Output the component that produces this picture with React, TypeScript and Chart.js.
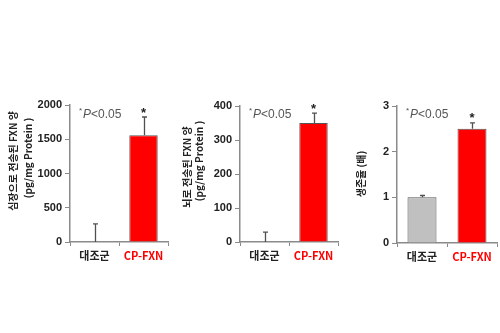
import React, { useEffect, useRef } from "react";
import { Chart, registerables } from "chart.js";
Chart.register(...registerables);

const categories = ["대조군", "CP-FXN"];
const heartValues = [0, 1560];
const heartUpper = [265, 1825];
const heartTicks = { max: 2000, step: 500 };
const heartTitle = ["심장으로 전송된 FXN 양", "(pg/mg Protein )"];

const brainValues = [0, 350];
const brainUpper = [29, 379];
const brainTicks = { max: 400, step: 100 };
const brainTitle = ["뇌로 전송된 FXN 양", "(pg/mg Protein )"];

const survivalValues = [1.0, 2.5];
const survivalUpper = [1.04, 2.63];
const survivalTicks = { max: 3, step: 1 };
const survivalTitle = ["생존율 (배)"];

const pLabel = "P<0.05";

const AXIS = "#8a8a8a";
const FONT_KR = "'Noto Sans CJK KR', Arial, sans-serif";
const FONT_NUM = "Arial, 'Liberation Sans', sans-serif";

type PanelProps = {
  x0: number;
  width: number;
  values: number[];
  upper: number[];
  colors: string[];
  borders: string[];
  ticks: { max: number; step: number };
  title: string[];
  titlePos: { x: number; y: number }[];
  padL: number;
  yW: number;
  padR: number;
  top: number;
  bottom: number;
};

const H = 333;

function Panel(p: PanelProps) {
  const ref = useRef<HTMLCanvasElement | null>(null);
  useEffect(() => {
    if (!ref.current) return;
    const xH = 30;
    const decor = {
      id: "decor",
      afterDatasetsDraw(chart: any) {
        const ctx = chart.ctx;
        const meta = chart.getDatasetMeta(0);
        const ys = chart.scales.y;
        ctx.save();
        ctx.strokeStyle = "#505050";
        ctx.lineWidth = 1.3;
        meta.data.forEach((el: any, i: number) => {
          const x = Math.round(el.x) + 0.5;
          const yb = ys.getPixelForValue(p.values[i]);
          const yt = ys.getPixelForValue(p.upper[i]);
          ctx.beginPath();
          ctx.moveTo(x, yb);
          ctx.lineTo(x, yt);
          ctx.moveTo(x - 2.5, yt);
          ctx.lineTo(x + 2.5, yt);
          ctx.stroke();
        });
        const el = meta.data[1];
        const yt = ys.getPixelForValue(p.upper[1]);
        ctx.fillStyle = "#222";
        ctx.font = "bold 13px " + FONT_NUM;
        ctx.textAlign = "center";
        ctx.textBaseline = "middle";
        ctx.fillText("*", el.x, yt - 4);
        const ca = chart.chartArea;
        const px = ca.left + 9;
        const py = 114;
        ctx.fillStyle = "#555";
        ctx.textAlign = "left";
        ctx.textBaseline = "alphabetic";
        ctx.font = "8px " + FONT_NUM;
        ctx.fillText("*", px, py - 1);
        ctx.font = "italic 12px " + FONT_NUM;
        ctx.fillText(pLabel[0], px + 4, py + 4);
        const w = ctx.measureText(pLabel[0]).width;
        ctx.font = "12px " + FONT_NUM;
        ctx.fillText(pLabel.slice(1), px + 4 + w, py + 4);
        ctx.fillStyle = "#222";
        ctx.font = "bold 10px " + FONT_KR;
        ctx.textAlign = "center";
        ctx.textBaseline = "middle";
        p.title.forEach((t, i) => {
          const pos = p.titlePos[i];
          ctx.save();
          ctx.translate(pos.x, pos.y);
          ctx.rotate(-Math.PI / 2);
          ctx.fillText(t, 0, 0);
          ctx.restore();
        });
        ctx.restore();
      },
    };
    const chart = new Chart(ref.current, {
      type: "bar",
      data: {
        labels: categories,
        datasets: [
          {
            data: p.values,
            backgroundColor: p.colors,
            borderColor: p.borders,
            borderWidth: 1,
            borderSkipped: "bottom",
            barPercentage: 0.58,
            categoryPercentage: 1,
          },
        ],
      },
      options: {
        responsive: false,
        animation: false,
        devicePixelRatio: 1,
        layout: {
          padding: {
            left: p.padL,
            right: p.padR,
            top: p.top,
            bottom: H - p.bottom - xH,
          },
        },
        plugins: { legend: { display: false }, tooltip: { enabled: false } },
        scales: {
          x: {
            afterFit(s: any) {
              s.height = xH;
            },
            grid: {
              offset: true,
              drawOnChartArea: false,
              drawTicks: true,
              tickLength: 4,
              color: AXIS,
            },
            border: { color: AXIS, width: 1.5 },
            ticks: {
              padding: 3,
              color: (c: any) => (c.index === 1 ? "#ff0000" : "#222"),
              font: { family: FONT_KR, size: 11, weight: "bold" },
            },
          },
          y: {
            min: 0,
            max: p.ticks.max,
            afterFit(s: any) {
              s.width = p.yW;
            },
            grid: {
              drawOnChartArea: false,
              drawTicks: true,
              tickLength: 5,
              color: AXIS,
            },
            border: { color: AXIS, width: 1.5 },
            ticks: {
              stepSize: p.ticks.step,
              padding: 3,
              color: "#222",
              callback: (v: any) => String(v),
              font: { family: FONT_NUM, size: 11, weight: "bold" },
            },
          },
        },
      },
      plugins: [decor],
    } as any);
    return () => chart.destroy();
  }, []);
  return (
    <canvas
      ref={ref}
      width={p.width}
      height={H}
      style={{ position: "absolute", left: p.x0, top: 0, width: p.width, height: H }}
    />
  );
}

export default function App() {
  return (
    <div style={{ position: "absolute", left: 0, top: 0, width: 500, height: 333, background: "#fff" }}>
      <Panel
        x0={0}
        width={170}
        values={heartValues}
        upper={heartUpper}
        colors={["#c0c0c0", "#ff0000"]}
        borders={["#555", "#555"]}
        ticks={heartTicks}
        title={heartTitle}
        titlePos={[
          { x: 13, y: 161 },
          { x: 28, y: 158 },
        ]}
        padL={0}
        yW={70}
        padR={2}
        top={105}
        bottom={242}
      />
      <Panel
        x0={170}
        width={170}
        values={brainValues}
        upper={brainUpper}
        colors={["#c0c0c0", "#ff0000"]}
        borders={["#555", "#555"]}
        ticks={brainTicks}
        title={brainTitle}
        titlePos={[
          { x: 17, y: 167 },
          { x: 29, y: 161 },
        ]}
        padL={0}
        yW={70}
        padR={2}
        top={106}
        bottom={242}
      />
      <Panel
        x0={340}
        width={160}
        values={survivalValues}
        upper={survivalUpper}
        colors={["#c0c0c0", "#ff0000"]}
        borders={["#555", "#555"]}
        ticks={survivalTicks}
        title={survivalTitle}
        titlePos={[{ x: 21, y: 174 }]}
        padL={0}
        yW={57}
        padR={3}
        top={106}
        bottom={243}
      />
    </div>
  );
}
